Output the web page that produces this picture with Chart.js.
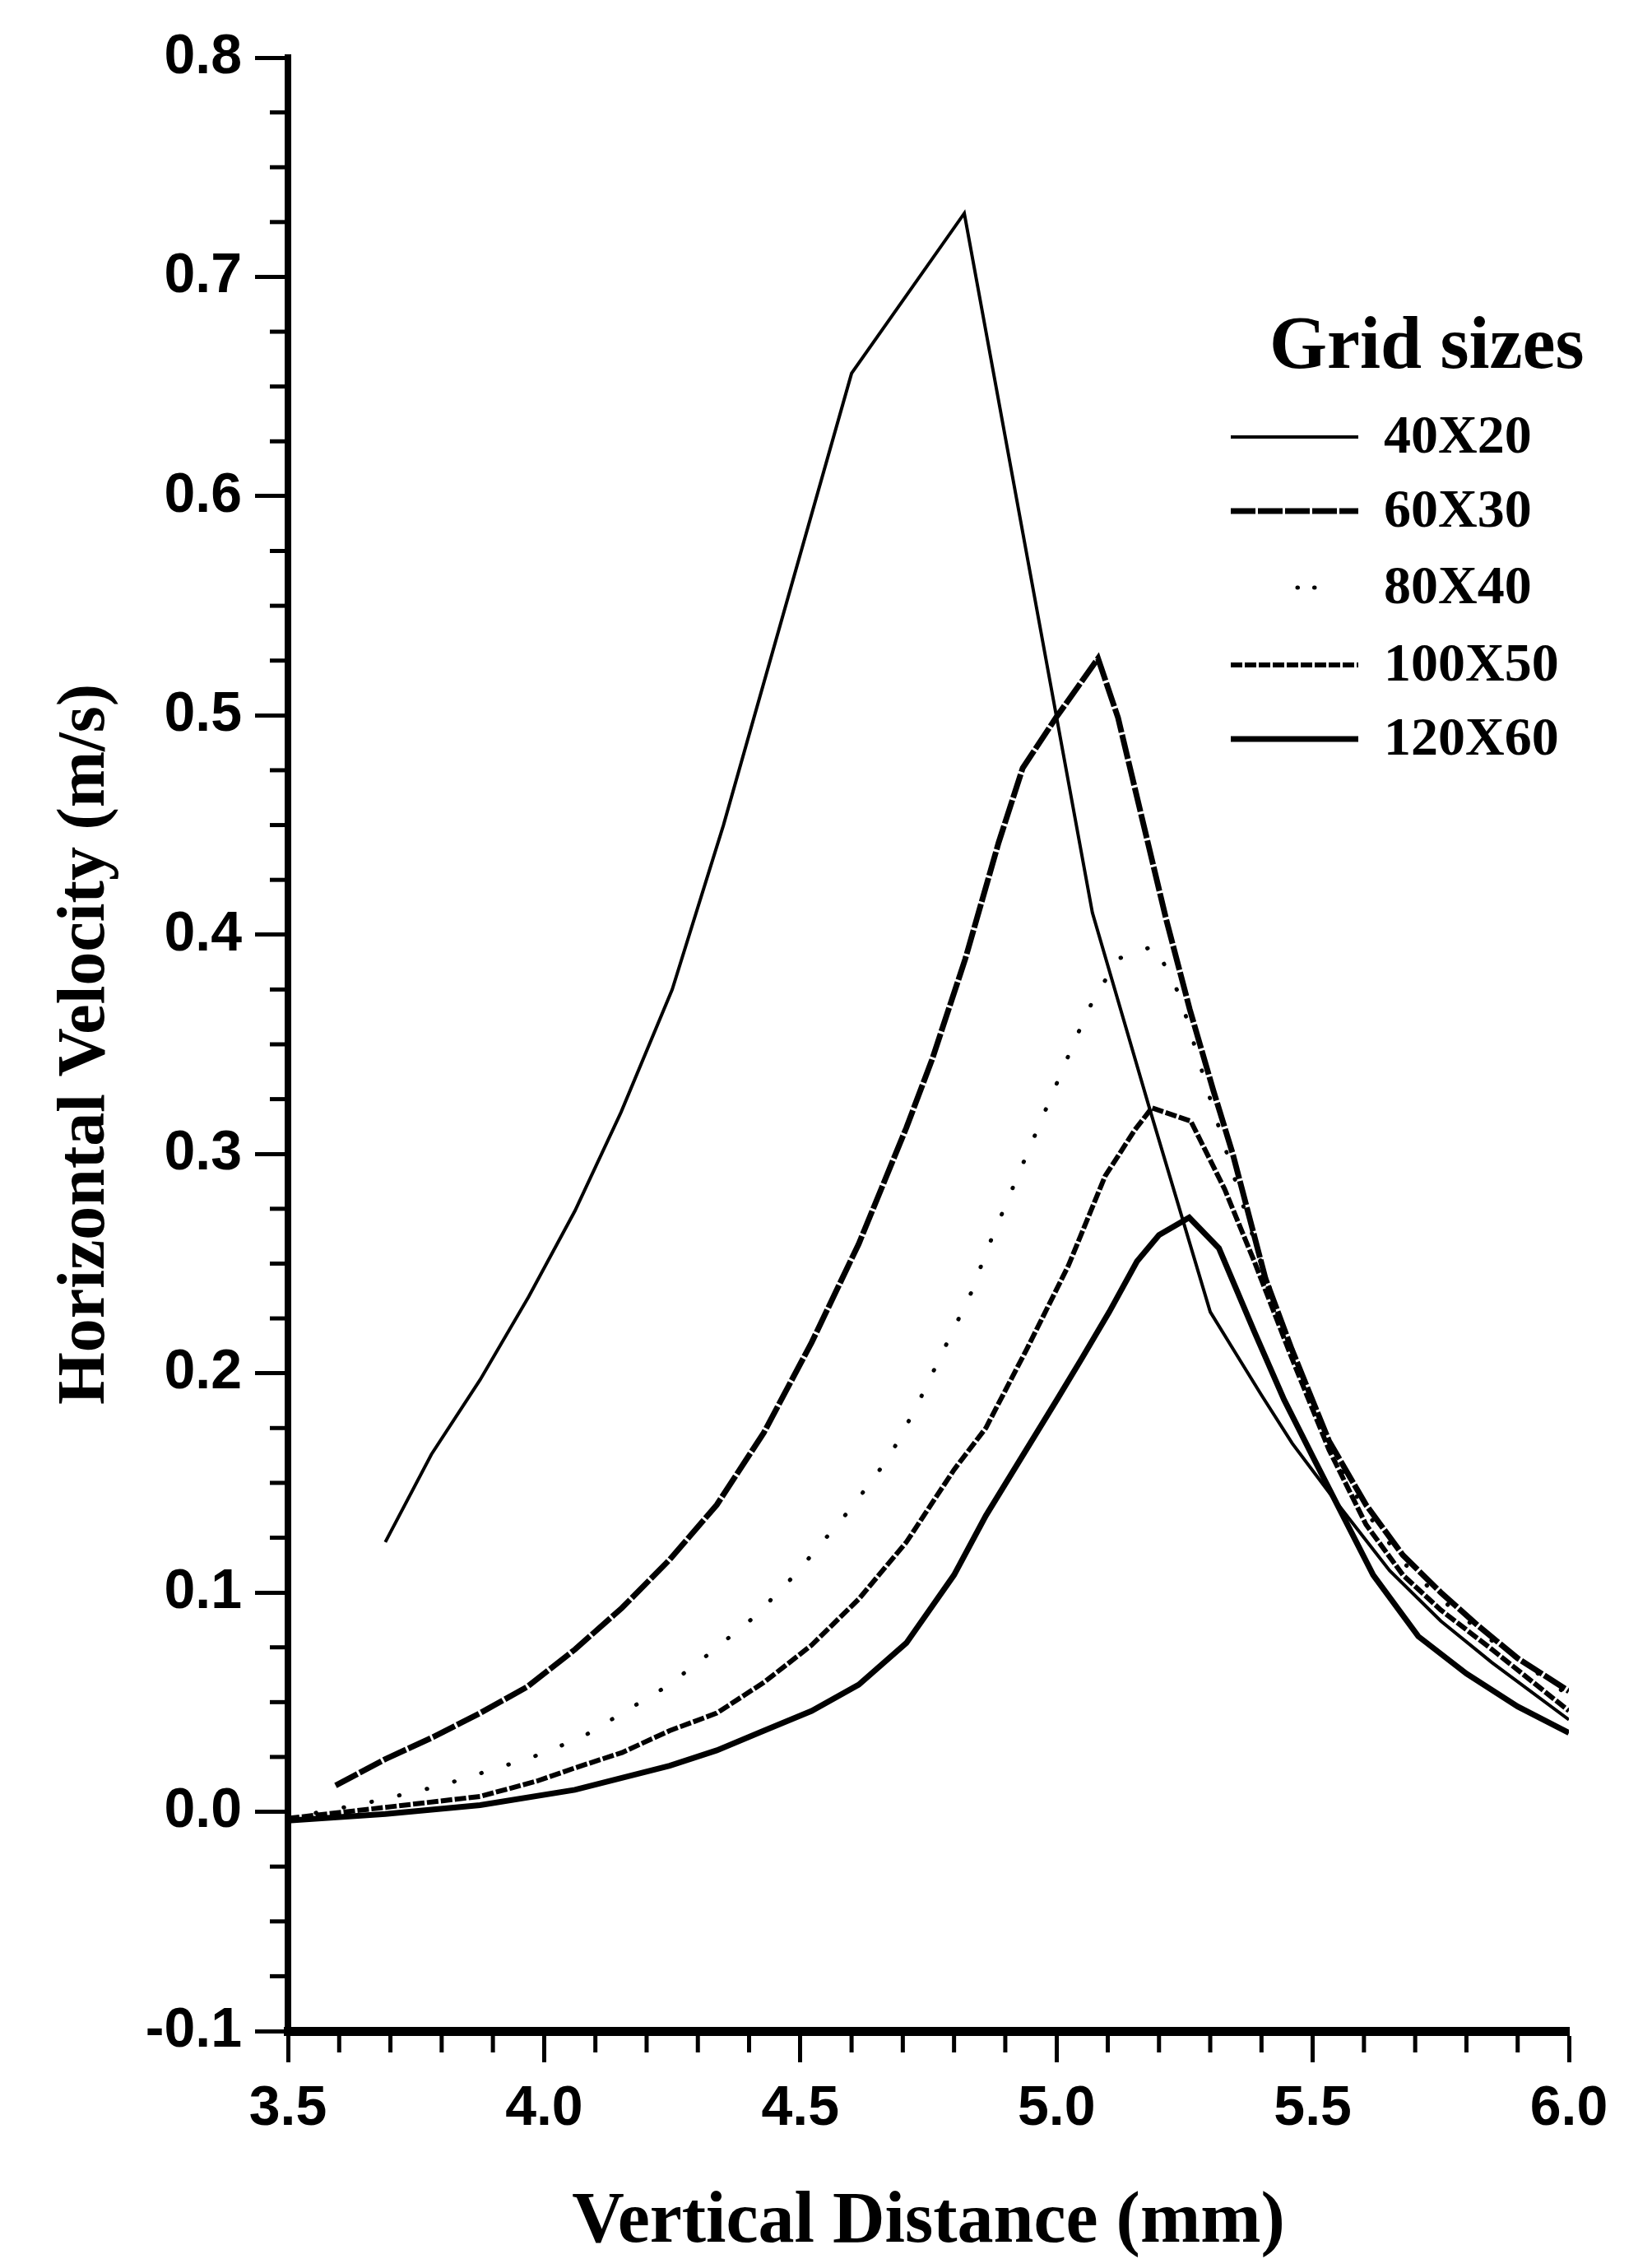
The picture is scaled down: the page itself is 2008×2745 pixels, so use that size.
<!DOCTYPE html>
<html>
<head>
<meta charset="utf-8">
<script src="https://cdn.jsdelivr.net/npm/chart.js@4.4.1/dist/chart.umd.min.js"></script>
<style>
  html, body { margin: 0; padding: 0; background: #fff; }
  #wrap { width: 2008px; height: 2745px; }
</style>
</head>
<body>
<div id="wrap"><canvas id="chart" width="2008" height="2745"></canvas></div>
<script>
// --- Data ---
const seriesNames = ['40X20', '60X30', '80X40', '100X50', '120X60'];

const x40 = [3.69, 3.78, 3.875, 3.97, 4.06, 4.15, 4.25, 4.35, 4.6, 4.82, 5.07, 5.18, 5.3, 5.35, 5.4, 5.46, 5.55, 5.65, 5.75, 5.85, 6.0];
const y40 = [0.123, 0.163, 0.197, 0.235, 0.274, 0.319, 0.375, 0.45, 0.656, 0.729, 0.41, 0.322, 0.228, 0.209, 0.19, 0.168, 0.14, 0.11, 0.087, 0.068, 0.042];

const x60 = [3.593, 3.69, 3.783, 3.875, 3.967, 4.06, 4.152, 4.245, 4.337, 4.429, 4.522, 4.614, 4.707, 4.757, 4.822, 4.887, 4.934, 4.999, 5.081,
             5.12, 5.167, 5.214, 5.26, 5.306, 5.344, 5.408, 5.459, 5.532, 5.604, 5.676, 5.75, 5.822, 5.9, 6.0];
const y60 = [0.012, 0.024, 0.034, 0.045, 0.057, 0.074, 0.093, 0.115, 0.14, 0.173, 0.214, 0.259, 0.312, 0.343, 0.389, 0.442, 0.476, 0.499, 0.526,
             0.499, 0.453, 0.407, 0.366, 0.329, 0.3, 0.243, 0.211, 0.169, 0.14, 0.117, 0.1, 0.085, 0.07, 0.055];

const x80 = [3.5, 3.653, 3.8, 3.978, 4.074, 4.231, 4.295, 4.353, 4.411, 4.485, 4.518, 4.601, 4.674, 4.725, 4.836, 4.862, 4.91, 5.038, 5.069, 5.12, 5.192,
             5.241, 5.3, 5.35, 5.4, 5.46, 5.53, 5.6, 5.68, 5.75, 5.85, 6.0];
const y80 = [-0.003, 0.004, 0.012, 0.025, 0.034, 0.056, 0.067, 0.078, 0.089, 0.107, 0.116, 0.139, 0.162, 0.184, 0.238, 0.255, 0.282, 0.353, 0.369, 0.389, 0.395,
             0.372, 0.325, 0.287, 0.25, 0.209, 0.167, 0.138, 0.113, 0.097, 0.078, 0.053];

const x100 = [3.5, 3.69, 3.875, 3.986, 4.06, 4.152, 4.245, 4.337, 4.429, 4.522, 4.614, 4.707, 4.8, 4.862, 4.942, 5.023, 5.095, 5.153, 5.186,
              5.262, 5.328, 5.386, 5.459, 5.532, 5.604, 5.676, 5.75, 5.85, 6.0];
const y100 = [-0.003, 0.002, 0.007, 0.014, 0.02, 0.027, 0.037, 0.045, 0.059, 0.076, 0.097, 0.123, 0.156, 0.175, 0.211, 0.249, 0.29, 0.311, 0.321,
              0.315, 0.284, 0.251, 0.207, 0.165, 0.131, 0.108, 0.092, 0.074, 0.046];

const x120 = [3.5, 3.69, 3.875, 4.06, 4.245, 4.337, 4.429, 4.522, 4.614, 4.707, 4.8, 4.862, 5.001, 5.05, 5.103, 5.157, 5.2, 5.259,
              5.317, 5.386, 5.444, 5.5, 5.618, 5.706, 5.8, 5.9, 6.0];
const y120 = [-0.004, -0.001, 0.003, 0.01, 0.021, 0.028, 0.037, 0.046, 0.058, 0.077, 0.108, 0.135, 0.188, 0.207, 0.228, 0.251, 0.263, 0.271,
              0.257, 0.219, 0.188, 0.162, 0.108, 0.08, 0.063, 0.048, 0.036];

const xTickLabels = ['3.5', '4.0', '4.5', '5.0', '5.5', '6.0'];
const yTickLabels = ['-0.1', '0.0', '0.1', '0.2', '0.3', '0.4', '0.5', '0.6', '0.7', '0.8'];

const xTitle = 'Vertical Distance (mm)';
const yTitle = 'Horizontal Velocity (m/s)';
const legendTitle = 'Grid sizes';

// --- Helpers ---
function pairs(xs, ys) {
    return xs.map((x, i) => ({ x: x, y: ys[i] }));
}

const serif = '"Liberation Serif", "Times New Roman", serif';
const sans = '"Liberation Sans Narrow", "Liberation Sans", Arial, sans-serif';

// minor ticks along both axes
const minorTicks = {
    id: 'minorTicks',
    afterDraw(chart) {
        const { ctx, scales } = chart;
        const xs = scales.x, ys = scales.y;
        ctx.save();
        ctx.strokeStyle = '#000';
        ctx.lineWidth = 5;
        for (let v = -0.1; v < 0.8; v += 0.025) {
            const r = Math.round(v * 1000);
            if (r % 100 === 0) continue;
            const py = ys.getPixelForValue(v);
            ctx.beginPath();
            ctx.moveTo(ys.right - 4, py);
            ctx.lineTo(ys.right - 22, py);
            ctx.stroke();
        }
        for (let v = 3.5; v < 6.0; v += 0.1) {
            const r = Math.round(v * 10);
            if (r % 5 === 0) continue;
            const px = xs.getPixelForValue(v);
            ctx.beginPath();
            ctx.moveTo(px, xs.top + 5);
            ctx.lineTo(px, xs.top + 26);
            ctx.stroke();
        }
        ctx.restore();
    }
};

// "Grid sizes" key drawn inside the plot, like the original
const gridLegend = {
    id: 'gridLegend',
    afterDraw(chart) {
        const ctx = chart.ctx;
        ctx.save();
        ctx.fillStyle = '#000';
        ctx.font = 'bold 90px ' + serif;
        ctx.textBaseline = 'alphabetic';
        ctx.fillText(legendTitle, 1543, 447);

        ctx.font = 'bold 66px ' + serif;
        ctx.textBaseline = 'middle';
        const rows = [531, 621, 714, 808, 898];
        chart.data.datasets.forEach((ds, i) => {
            const y = rows[i];
            ctx.save();
            ctx.strokeStyle = ds.borderColor;
            ctx.lineWidth = ds.borderWidth;
            ctx.lineCap = ds.borderCapStyle || 'butt';
            ctx.setLineDash(ds.borderDash || []);
            ctx.beginPath();
            if (ds.label === '80X40') {
                ctx.setLineDash([0.5, 20]);
                ctx.moveTo(1577, y);
                ctx.lineTo(1600, y);
            } else {
                ctx.moveTo(1496, y);
                ctx.lineTo(1651, y);
            }
            ctx.stroke();
            ctx.restore();
            ctx.fillText(ds.label, 1682, y + 2);
        });
        ctx.restore();
    }
};

const datasets = [
    { label: seriesNames[0], data: pairs(x40, y40), borderColor: '#000', borderWidth: 4 },
    { label: seriesNames[1], data: pairs(x60, y60), borderColor: '#000', borderWidth: 7, borderDash: [30, 3] },
    { label: seriesNames[2], data: pairs(x80, y80), borderColor: '#000', borderWidth: 5, borderDash: [0.5, 34], borderCapStyle: 'round' },
    { label: seriesNames[3], data: pairs(x100, y100), borderColor: '#000', borderWidth: 6, borderDash: [14, 3] },
    { label: seriesNames[4], data: pairs(x120, y120), borderColor: '#000', borderWidth: 7 }
].map(d => Object.assign({ fill: false, tension: 0, pointRadius: 0, borderJoinStyle: 'miter' }, d));

new Chart(document.getElementById('chart'), {
    type: 'line',
    data: { datasets: datasets },
    options: {
        responsive: false,
        devicePixelRatio: 1,
        animation: false,
        layout: { padding: { top: 70, right: 101, left: 0, bottom: 0 } },
        plugins: { legend: { display: false }, tooltip: { enabled: false } },
        scales: {
            x: {
                type: 'linear',
                min: 3.5, max: 6.0,
                afterFit(scale) { scale.height = 277; },
                border: { display: true, color: '#000', width: 11 },
                grid: { drawOnChartArea: false, drawTicks: true, tickLength: 38, tickWidth: 5, tickColor: '#000' },
                ticks: {
                    stepSize: 0.5,
                    padding: 16,
                    color: '#000',
                    font: { family: sans, size: 68, weight: 'bold' },
                    callback: (v) => xTickLabels[Math.round((v - 3.5) / 0.5)]
                },
                title: {
                    display: true, text: xTitle, color: '#000',
                    font: { family: serif, size: 88, weight: 'bold', lineHeight: 1 },
                    padding: { top: 8, bottom: 0 }
                }
            },
            y: {
                type: 'linear',
                min: -0.1, max: 0.8,
                afterFit(scale) { scale.width = 350; },
                border: { display: true, color: '#000', width: 8 },
                grid: { drawOnChartArea: false, drawTicks: true, tickLength: 40, tickWidth: 5, tickColor: '#000' },
                ticks: {
                    stepSize: 0.1,
                    padding: 16,
                    color: '#000',
                    font: { family: sans, size: 68, weight: 'bold' },
                    callback: (v) => yTickLabels[Math.round((v + 0.1) / 0.1)]
                },
                title: {
                    display: true, text: yTitle, color: '#000',
                    font: { family: serif, size: 82, weight: 'bold', lineHeight: 1 },
                    padding: { top: 64, bottom: 0 }
                }
            }
        }
    },
    plugins: [minorTicks, gridLegend]
});
</script>
</body>
</html>
